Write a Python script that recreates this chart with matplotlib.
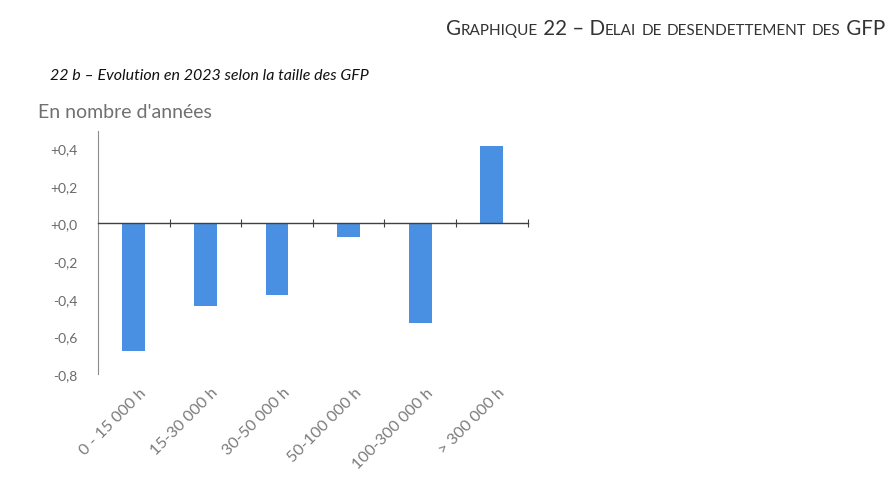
import matplotlib
matplotlib.use("Agg")
import matplotlib.pyplot as plt
import numpy as np

plt.rcParams['font.family'] = ['Lato', 'DejaVu Sans']

categories = ["0 - 15 000 h", "15-30 000 h", "30-50 000 h",
              "50-100 000 h", "100-300 000 h", "> 300 000 h"]
values = [-0.68, -0.44, -0.38, -0.07, -0.53, 0.41]
yticks = [0.4, 0.2, 0.0, -0.2, -0.4, -0.6, -0.8]
ytick_labels = ["+0,4", "+0,2", "+0,0", "-0,2", "-0,4", "-0,6", "-0,8"]

header = "Graphique 22 – Delai de desendettement des GFP"
title = "22 b – Evolution en 2023 selon la taille des GFP"
subtitle = "En nombre d'années"

fig = plt.figure(figsize=(8.9, 4.89), dpi=100)
ax = fig.add_axes([0.110, 0.233, 0.483, 0.497])

x = np.arange(len(categories))
ax.bar(x, values, width=0.32, color='#4a90e2', zorder=2)

ax.set_xlim(-0.5, len(categories) - 0.5)
ax.set_ylim(-0.8, 0.49)

# y axis: labels only, no tick marks
ax.set_yticks(yticks)
ax.set_yticklabels(ytick_labels)
ax.tick_params(axis='y', length=0, pad=15, labelsize=10, labelcolor='#6a6a6a')

# x axis line sits at zero, with ticks between the categories
for s in ['top', 'right']:
    ax.spines[s].set_visible(False)
ax.spines['left'].set_color('#8c8c8c')
ax.spines['left'].set_linewidth(0.8)
ax.spines['bottom'].set_position(('data', 0))
ax.spines['bottom'].set_color('#404040')
ax.spines['bottom'].set_linewidth(1.0)
ax.spines['bottom'].set_zorder(3)
ax.set_xticks(np.arange(len(categories)) + 0.5)
ax.set_xticklabels([])
ax.tick_params(axis='x', direction='inout', length=6, width=0.8, color='#404040')

# category labels along the bottom of the plot area
trans = matplotlib.transforms.blended_transform_factory(ax.transData, ax.transAxes)
for i, lab in enumerate(categories):
    ax.text(i + 0.08, -0.045, lab, transform=trans, rotation=45,
            rotation_mode='anchor', ha='right', va='top',
            fontsize=11.5, color='#7a7a7a')

fig.text(50 / 890, 1 - 76 / 489, title, fontsize=11.5, style='italic',
         color='#111111', va='center', ha='left')
fig.text(38 / 890, 1 - 113 / 489, subtitle, fontsize=14,
         color='#707070', va='center', ha='left')

# header in small caps: lowercase letters drawn as smaller capitals
runs = []
for ch in header:
    small = ch.islower()
    if runs and runs[-1][1] == small:
        runs[-1][0] += ch.upper() if small else ch
    else:
        runs.append([ch.upper() if small else ch, small])

renderer = fig.canvas.get_renderer()
texts = []
xpos = 0.0
for s, small in runs:
    t = fig.text(0, 1 - 35 / 489, s, fontsize=11 if small else 14.8,
                 color='#333333', va='baseline', ha='left')
    w = t.get_window_extent(renderer).width
    texts.append((t, xpos))
    xpos += w
right = 885
for t, off in texts:
    t.set_x((right - xpos + off) / 890)

fig.savefig("out.png", dpi=100, facecolor='white')
